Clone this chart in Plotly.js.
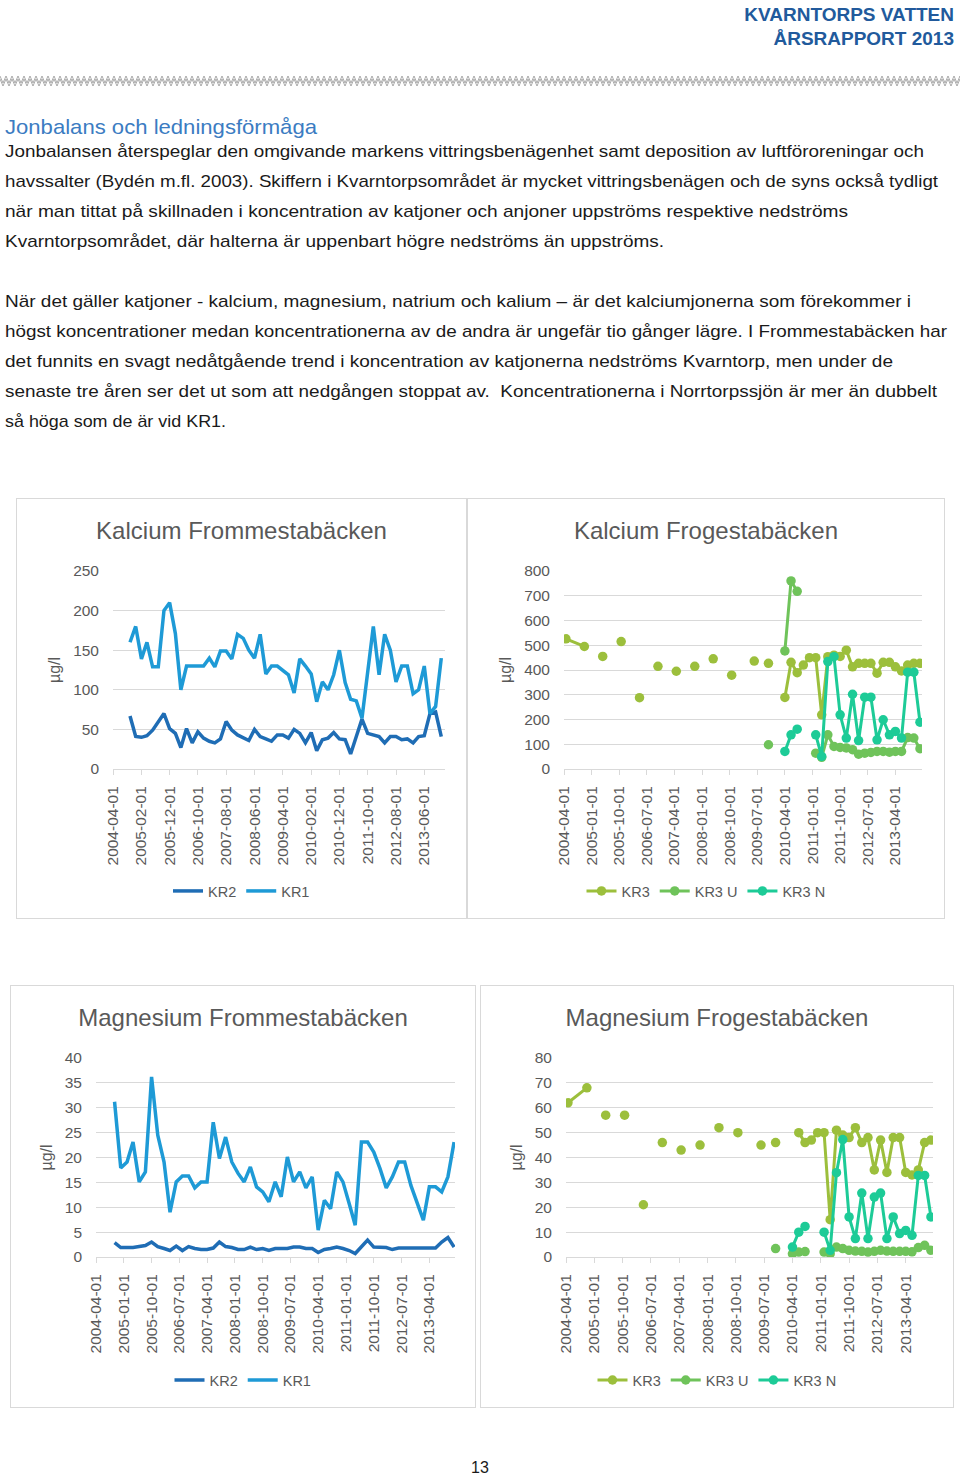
<!DOCTYPE html>
<html><head><meta charset="utf-8">
<script src="https://cdn.plot.ly/plotly-3.0.1.min.js"></script>
<style>
html,body{margin:0;padding:0;background:#fff;}
#page{position:relative;width:960px;height:1478px;overflow:hidden;background:#fff;}
.box{position:absolute;border:1px solid #D9D9D9;box-sizing:border-box;pointer-events:none;}
.plot{position:absolute;}
svg text{font-family:"Liberation Sans",Arial,sans-serif;white-space:pre;}
</style></head>
<body><div id="page">
<svg id="txt" width="960" height="1478" style="position:absolute;left:0;top:0">
<g id="zig" fill="none" stroke="#8a8a8a" stroke-width="0.7"></g>
<text x="954" y="21" font-size="19" font-weight="bold" fill="#215A9C" text-anchor="end">KVARNTORPS VATTEN</text>
<text x="954" y="45" font-size="19" font-weight="bold" fill="#215A9C" text-anchor="end">ÅRSRAPPORT 2013</text>
<text x="5" y="134" font-size="21" fill="#3B7CC2" textLength="312" lengthAdjust="spacingAndGlyphs">Jonbalans och ledningsförmåga</text>
<g font-size="17" fill="#1a1a1a">
<text x="5" y="157" textLength="919" lengthAdjust="spacingAndGlyphs">Jonbalansen återspeglar den omgivande markens vittringsbenägenhet samt deposition av luftföroreningar och</text>
<text x="5" y="187" textLength="933" lengthAdjust="spacingAndGlyphs">havssalter (Bydén m.fl. 2003). Skiffern i Kvarntorpsområdet är mycket vittringsbenägen och de syns också tydligt</text>
<text x="5" y="217" textLength="843" lengthAdjust="spacingAndGlyphs">när man tittat på skillnaden i koncentration av katjoner och anjoner uppströms respektive nedströms</text>
<text x="5" y="247" textLength="659" lengthAdjust="spacingAndGlyphs">Kvarntorpsområdet, där halterna är uppenbart högre nedströms än uppströms.</text>
<text x="5" y="307" textLength="906" lengthAdjust="spacingAndGlyphs">När det gäller katjoner - kalcium, magnesium, natrium och kalium – är det kalciumjonerna som förekommer i</text>
<text x="5" y="337" textLength="942" lengthAdjust="spacingAndGlyphs">högst koncentrationer medan koncentrationerna av de andra är ungefär tio gånger lägre. I Frommestabäcken har</text>
<text x="5" y="367" textLength="888" lengthAdjust="spacingAndGlyphs">det funnits en svagt nedåtgående trend i koncentration av katjonerna nedströms Kvarntorp, men under de</text>
<text x="5" y="397" textLength="932" lengthAdjust="spacingAndGlyphs">senaste tre åren ser det ut som att nedgången stoppat av.  Koncentrationerna i Norrtorpssjön är mer än dubbelt</text>
<text x="5" y="427" textLength="221" lengthAdjust="spacingAndGlyphs">så höga som de är vid KR1.</text>
</g>
<text x="480" y="1473" font-size="16" fill="#1a1a1a" text-anchor="middle">13</text>
</svg>
<div id="c1" class="plot" style="left:16px;top:498px;width:451px;height:421px"></div>
<div id="c2" class="plot" style="left:467px;top:498px;width:478px;height:421px"></div>
<div id="c3" class="plot" style="left:10px;top:985px;width:466px;height:423px"></div>
<div id="c4" class="plot" style="left:480px;top:985px;width:474px;height:423px"></div>
<div class="box" style="left:16px;top:498px;width:451px;height:421px"></div>
<div class="box" style="left:467px;top:498px;width:478px;height:421px"></div>
<div class="box" style="left:10px;top:985px;width:466px;height:423px"></div>
<div class="box" style="left:480px;top:985px;width:474px;height:423px"></div>
</div>
<script>
// ---------- data ----------
const fromDates = ['2004-10-01','2004-12-01','2005-02-01','2005-04-01','2005-06-01','2005-08-01','2005-10-01','2005-12-01','2006-02-01','2006-04-01','2006-06-01','2006-08-01','2006-10-01','2006-12-01','2007-02-01','2007-04-01','2007-06-01','2007-08-01','2007-10-01','2007-12-01','2008-02-01','2008-04-01','2008-06-01','2008-08-01','2008-10-01','2008-12-01','2009-02-01','2009-04-01','2009-06-01','2009-08-01','2009-10-01','2009-12-01','2010-02-01','2010-04-01','2010-06-01','2010-08-01','2010-10-01','2010-12-01','2011-02-01','2011-04-01','2011-06-01','2011-08-01','2011-10-01','2011-12-01','2012-02-01','2012-04-01','2012-06-01','2012-08-01','2012-10-01','2012-12-01','2013-02-01','2013-04-01','2013-06-01','2013-08-01','2013-10-01','2013-12-01'];
const caFromKR2 = [67,41,40,42,49,60,70,51,45,27,51,33,47,39,35,33,38,60,49,43,40,36,50,41,38,35,43,43,39,50,45,33,46,23,37,39,46,38,37,19,41,63,45,43,41,33,41,41,37,38,33,41,42,70,72,41];
const caFromKR1 = [160,180,139,160,129,129,200,210,171,100,130,130,130,130,140,129,149,149,139,170,165,150,140,170,120,130,130,125,119,96,139,130,120,85,110,100,119,150,109,88,86,64,119,180,119,170,150,110,130,130,95,100,130,70,79,140];
const mgFromKR2 = [2.9,1.9,1.9,1.9,2.1,2.3,3.0,2.1,1.7,1.3,2.2,1.3,2.1,1.7,1.5,1.5,1.8,3.0,2.1,1.9,1.5,1.5,2.0,1.5,1.7,1.3,1.7,1.7,1.7,2.0,2.0,1.7,1.7,0.9,1.5,1.7,2.0,1.7,1.3,0.7,2.0,3.4,2.0,1.9,1.9,1.5,1.8,1.8,1.8,1.7,1.7,1.8,1.8,3.0,3.9,2.0];
const mgFromKR1 = [31.2,17.9,19.1,23.1,15.1,17.1,36.2,24.5,19.1,9.0,15.1,16.3,16.3,13.9,15.1,15.1,27.1,19.8,24.1,19.1,16.8,15.1,18.1,14.1,13.1,11.1,15.1,12.1,20.1,15.1,17.1,13.9,16.1,5.4,11.4,9.7,17.1,15.1,10.7,6.4,23.1,23.1,21.1,17.8,13.9,16.1,19.1,19.1,14.4,11.1,7.4,14.1,14.1,13.1,16.1,23.1];

const frogDates = ['2004-04-20','2004-10-20','2005-01-20','2005-04-20','2005-07-20','2005-10-20','2006-01-20','2006-04-20','2006-07-20','2006-10-20','2007-01-20','2007-04-20','2007-07-20','2007-10-20','2008-01-20','2008-04-20','2008-07-20','2008-10-20','2009-02-15','2009-06-01','2009-08-15','2009-10-20','2010-01-15','2010-04-01','2010-06-01','2010-08-01','2010-10-01','2010-12-01','2011-02-01','2011-04-01','2011-06-01','2011-08-01','2011-10-01','2011-12-01','2012-02-01','2012-04-01','2012-06-01','2012-08-01','2012-10-01','2012-12-01','2013-02-01','2013-04-01','2013-06-01','2013-08-01','2013-10-01','2013-12-01'];
const caFrogKR3  = [526,495,null,455,null,515,null,288,null,415,null,395,null,415,null,445,null,379,null,436,null,427,null,289,431,389,420,450,450,219,454,460,455,480,413,427,427,427,387,431,431,413,396,420,427,427];
const caFrogKR3U = [null,null,null,null,null,null,null,null,null,null,null,null,null,null,null,null,null,null,null,null,null,98,null,477,760,718,null,null,64,47,138,91,87,85,78,60,64,67,71,71,68,71,71,127,125,82];
const caFrogKR3N = [null,null,null,null,null,null,null,null,null,null,null,null,null,null,null,null,null,null,null,null,null,null,null,71,138,161,null,null,138,51,434,454,219,125,302,115,290,290,118,199,138,152,125,391,391,189];
const mgFrogKR3  = [62,68,null,57,null,57,null,21,null,46,null,43,null,45,null,52,null,50,null,45,null,46,null,null,50,46,47,50,50,15,51,49,48,52,46,48,35,47,34,48,48,34,33,35,46,47];
const mgFrogKR3U = [null,null,null,null,null,null,null,null,null,null,null,null,null,null,null,null,null,null,null,null,null,3.4,null,1.3,2.0,2.2,null,null,2.0,1.3,4.0,3.4,2.7,2.4,2.3,2.0,2.3,2.7,2.4,2.3,2.3,2.3,2.1,3.8,4.7,2.7];
const mgFrogKR3N = [null,null,null,null,null,null,null,null,null,null,null,null,null,null,null,null,null,null,null,null,null,null,null,4.0,10,12.3,null,null,10,2.7,33.9,47.2,16.1,7.4,25.7,7.4,24.1,25.7,7.4,16.1,9.4,10.7,8.7,32.8,32.8,16.1];

const tenMonthTicks = ['2004-04-01','2005-02-01','2005-12-01','2006-10-01','2007-08-01','2008-06-01','2009-04-01','2010-02-01','2010-12-01','2011-10-01','2012-08-01','2013-06-01'];
const nineMonthTicks = ['2004-04-01','2005-01-01','2005-10-01','2006-07-01','2007-04-01','2008-01-01','2008-10-01','2009-07-01','2010-04-01','2011-01-01','2011-10-01','2012-07-01','2013-04-01'];

const titles = ['Kalcium Frommestabäcken','Kalcium Frogestabäcken','Magnesium Frommestabäcken','Magnesium Frogestabäcken'];
const unitLabel = 'µg/l';

// ---------- decoration: zigzag rule ----------
(function(){
  const g = document.getElementById('zig');
  [[76,83],[79,86]].forEach(function(pair){
    let d = 'M0,' + pair[0];
    for (let x = 3, k = 1; x <= 963; x += 3, k++) d += ' L' + x + ',' + (k % 2 ? pair[1] : pair[0]);
    const p = document.createElementNS('http://www.w3.org/2000/svg','path');
    p.setAttribute('d', d); g.appendChild(p);
  });
})();

// ---------- charts ----------
const FONT = '"Liberation Sans", Arial, sans-serif';
const GREY = '#595959';
const GRID = '#D9D9D9';
const C = {KR2:'#1F6DB5', KR1:'#1E9AD6', KR3:'#9CBF3C', KR3U:'#6FC35A', KR3N:'#1DCB97'};

function layout(o){
  return {
    width:o.w, height:o.h, paper_bgcolor:'rgba(0,0,0,0)', plot_bgcolor:'rgba(0,0,0,0)',
    margin:{l:o.l, r:o.r, t:73, b:o.h-73-o.ph, pad:0},
    font:{family:FONT, color:GREY},
    showlegend:true,
    title:{text:o.title, font:{size:24, color:GREY, family:FONT}, x:0.5, xref:'container', xanchor:'center', y:o.ty, yref:'container', yanchor:'middle'},
    legend:{orientation:'h', x:0.5, xref:'container', xanchor:'center', y:o.ly, yref:'container', yanchor:'middle', font:{size:14.5, color:GREY, family:FONT}, bgcolor:'rgba(0,0,0,0)'},
    xaxis:{type:'date', range:o.xr, tickmode:'array', tickvals:o.ticks, ticktext:o.ticks, tickangle:-90,
      ticks:'outside', ticklen:5, tickcolor:GRID, tickwidth:1, showline:true, linecolor:GRID, linewidth:1,
      showgrid:false, zeroline:false, tickfont:{size:15.5, color:GREY, family:FONT}, ticklabelstandoff:5, fixedrange:true},
    yaxis:{range:o.yr, dtick:o.dt, tick0:0, showgrid:true, gridcolor:GRID, gridwidth:1, zeroline:false, showline:false,
      ticks:'', tickfont:{size:15.5, color:GREY, family:FONT}, ticklabelstandoff:13,
      title:{text:unitLabel, font:{size:16, color:GREY, family:FONT}, standoff:8}, fixedrange:true}
  };
}
const cfg = {staticPlot:true, displayModeBar:false};
function lineTrace(x,y,name,color){ return {x:x, y:y, name:name, type:'scatter', mode:'lines', line:{color:color, width:3.5}, connectgaps:false}; }
function mkTrace(x,y,name,color){ return {x:x, y:y, name:name, type:'scatter', mode:'lines+markers', line:{color:color, width:3}, marker:{color:color, size:9.5}, connectgaps:false}; }

Plotly.newPlot('c1', [lineTrace(fromDates,caFromKR2,'KR2',C.KR2), lineTrace(fromDates,caFromKR1,'KR1',C.KR1)],
  layout({w:451,h:421,l:97,r:22,ph:198,title:titles[0],ty:0.9216,ly:0.0665,xr:['2004-04-01','2014-01-10'],ticks:tenMonthTicks,yr:[0,250],dt:50}), cfg);
Plotly.newPlot('c2', [mkTrace(frogDates,caFrogKR3,'KR3',C.KR3), mkTrace(frogDates,caFrogKR3U,'KR3 U',C.KR3U), mkTrace(frogDates,caFrogKR3N,'KR3 N',C.KR3N)],
  layout({w:478,h:421,l:97,r:23,ph:198,title:titles[1],ty:0.9216,ly:0.0665,xr:['2004-04-01','2013-12-21'],ticks:nineMonthTicks,yr:[0,800],dt:100}), cfg);
Plotly.newPlot('c3', [lineTrace(fromDates,mgFromKR2,'KR2',C.KR2), lineTrace(fromDates,mgFromKR1,'KR1',C.KR1)],
  layout({w:466,h:423,l:86,r:21,ph:199,title:titles[2],ty:0.922,ly:0.066,xr:['2004-04-01','2013-12-10'],ticks:nineMonthTicks,yr:[0,40],dt:5}), cfg);
Plotly.newPlot('c4', [mkTrace(frogDates,mgFrogKR3,'KR3',C.KR3), mkTrace(frogDates,mgFrogKR3U,'KR3 U',C.KR3U), mkTrace(frogDates,mgFrogKR3N,'KR3 N',C.KR3N)],
  layout({w:474,h:423,l:86,r:21,ph:199,title:titles[3],ty:0.922,ly:0.066,xr:['2004-04-01','2013-12-21'],ticks:nineMonthTicks,yr:[0,80],dt:10}), cfg);
</script>
</body></html>
